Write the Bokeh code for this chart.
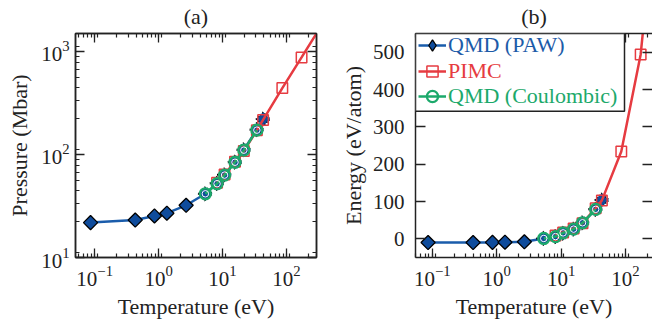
import numpy as np
from bokeh.plotting import figure
from bokeh.models import (LogAxis, LinearAxis, Legend, LegendItem, BoxAnnotation,
                          LogTicker, SingleIntervalTicker)
from bokeh.layouts import row
from bokeh.embed import file_html
from bokeh.resources import INLINE

# ---------------- data ----------------
T_qmd = [0.0862, 0.431, 0.862, 1.347, 2.694, 5.387, 8.209, 10.77, 15.67, 21.54, 34.47, 43.09]
P_qmd = [21.8, 23.1, 25.3, 26.9, 32.1, 41.5, 52.4, 63.4, 84.1, 111, 174, 220]
E_qmd = [-10, -10, -9.5, -9, -8, 1, 6, 15, 26, 43, 79, 104]

T_pimc = [8.209, 10.77, 15.67, 21.54, 34.47, 43.09, 86.17, 172.3, 344.7]
P_pimc = [53, 64, 85, 108, 172, 216, 440, 874, 1740]
E_pimc = [9, 17, 28, 42, 82, 103, 234, 494, 1010]

T_coul = [5.387, 8.209, 10.77, 15.67, 21.54, 34.47]
P_coul = [41.5, 52, 63, 84, 110, 172]
E_coul = [1, 6, 16, 26, 43, 79]

n_low = 5  # QMD (PAW) points drawn with solid outline

labels = ["QMD (PAW)", "PIMC", "QMD (Coulombic)"]
titles = ["(a)", "(b)"]

BLUE_FILL = "#0f4c9c"
BLUE_LINE = "#1a5cab"
BLUE_TEXT = "#1d5ba8"
RED = "#e63b41"
GREEN = "#1ca96b"
INK = "#222222"
FONT = "Liberation Serif"


def style_axis(ax, major=9, minor=4):
    ax.axis_line_width = 1.5
    ax.axis_line_color = INK
    ax.major_tick_in = major
    ax.major_tick_out = 0
    ax.minor_tick_in = minor
    ax.minor_tick_out = 0
    ax.major_tick_line_width = 1.3
    ax.minor_tick_line_width = 1.2
    ax.major_tick_line_color = INK
    ax.minor_tick_line_color = INK
    ax.major_label_text_font = FONT
    ax.major_label_text_font_size = "21px"
    ax.major_label_text_color = INK
    ax.axis_label_text_font = FONT
    ax.axis_label_text_font_size = "22px"
    ax.axis_label_text_font_style = "normal"
    ax.axis_label_text_color = INK


def hide_labels(ax):
    ax.major_label_text_font_size = "1px"
    ax.major_label_text_alpha = 0
    ax.major_label_standoff = 0


def draw_series(p, yq, yp, yc):
    r_bl = p.line(T_qmd, yq, line_color=BLUE_LINE, line_width=2.5)
    # plain diamonds (hidden under the rotated squares) give the legend its diamond glyph
    r_leg = p.scatter(T_qmd[:n_low], yq[:n_low], marker="diamond", size=9,
                      fill_color=BLUE_FILL, line_color="black", line_width=1.3)
    p.scatter(T_qmd[:n_low], yq[:n_low], marker="square", angle=np.pi / 4, size=10,
              fill_color=BLUE_FILL, line_color="black", line_width=1.3)
    p.scatter(T_qmd[n_low:], yq[n_low:], marker="square", angle=np.pi / 4, size=10,
              fill_color=BLUE_FILL, line_color="black", line_width=1.5, line_dash="1 2")
    r_rl = p.line(T_pimc, yp, line_color=RED, line_width=2.5)
    r_rs = p.scatter(T_pimc, yp, marker="square", size=10.5, fill_color=None,
                     line_color=RED, line_width=1.5)
    r_gl = p.line(T_coul, yc, line_color=GREEN, line_width=2.5)
    r_gc = p.scatter(T_coul, yc, marker="circle", size=11, fill_color=None,
                     line_color=GREEN, line_width=2.3)
    p.scatter(T_coul, yc, marker="circle", size=6.5, fill_color=None,
              line_color="white", line_width=1)
    return [r_bl, r_leg], [r_rl, r_rs], [r_gl, r_gc]


def base_fig(x_range, y_range, y_type, left_border, right_border):
    p = figure(width=326, height=328, x_axis_type="log", y_axis_type=y_type,
               x_range=x_range, y_range=y_range, output_backend="svg",
               toolbar_location=None, min_border_left=left_border,
               min_border_right=right_border, min_border_top=31, min_border_bottom=71)
    p.grid.visible = False
    p.background_fill_color = "white"
    p.border_fill_color = "white"
    return p


# ---------------- panel (a) ----------------
pa = base_fig((10 ** -1.30, 10 ** 2.47), (10, 1490), "log", 75, 10)
pa.outline_line_color = INK
pa.outline_line_width = 1.5
xt_a = LogTicker(num_minor_ticks=9)
yt_a = LogTicker(num_minor_ticks=9)
pa.xaxis.ticker = xt_a
pa.yaxis.ticker = yt_a
pa.xaxis.axis_label = "Temperature (eV)"
pa.yaxis.axis_label = "Pressure (Mbar)"
for ax in pa.xaxis + pa.yaxis:
    style_axis(ax)
pa.xaxis.major_label_standoff = 8
pa.yaxis.major_label_standoff = 6
pa.yaxis.axis_label_standoff = 6
top_a = LogAxis(ticker=xt_a, axis_label=titles[0])
right_a = LogAxis(ticker=yt_a)
for ax in (top_a, right_a):
    style_axis(ax)
    hide_labels(ax)
top_a.axis_label_standoff = 5
pa.add_layout(top_a, "above")
pa.add_layout(right_a, "right")
draw_series(pa, P_qmd, P_pimc, P_coul)

# ---------------- panel (b) ----------------
pb = base_fig((10 ** -1.26, 10 ** 2.42), (-50, 550), "linear", 89, 0)
pb.outline_line_color = None
xt_b = LogTicker(num_minor_ticks=9)
yt_b = SingleIntervalTicker(interval=100, num_minor_ticks=0)
pb.xaxis.ticker = xt_b
pb.yaxis.ticker = yt_b
pb.xaxis.axis_label = "Temperature (eV)"
pb.yaxis.axis_label = "Energy (eV/atom)"
for ax in pb.xaxis:
    style_axis(ax)
for ax in pb.yaxis:
    style_axis(ax, major=10)
pb.xaxis.major_label_standoff = 8
pb.yaxis.major_label_standoff = 11
pb.yaxis.axis_label_standoff = 4
top_b = LogAxis(ticker=xt_b, axis_label=titles[1])
right_b = LinearAxis(ticker=yt_b)
style_axis(top_b)
style_axis(right_b, major=10)
hide_labels(top_b)
hide_labels(right_b)
right_b.axis_line_color = None
top_b.axis_label_standoff = 5
pb.add_layout(top_b, "above")
pb.add_layout(right_b, "right")
rb, rr, rg = draw_series(pb, E_qmd, E_pimc, E_coul)

box = BoxAnnotation(right=209, right_units="screen", bottom=146.3, bottom_units="screen",
                    fill_color="white", fill_alpha=1.0, line_color=INK, line_width=1.5,
                    line_alpha=1.0)
pb.add_layout(box)

for lab, rends, col, vy in zip(labels, [rb, rr, rg], [BLUE_TEXT, RED, GREEN],
                               [198.3, 171.7, 146.7]):
    lg = Legend(items=[LegendItem(label=lab, renderers=rends)], location=(3, vy),
                padding=0, margin=0, spacing=0, glyph_width=28, glyph_height=28,
                label_height=28, label_standoff=2, label_text_font=FONT,
                label_text_font_size="22px", label_text_color=col,
                border_line_alpha=0, background_fill_alpha=0)
    pb.add_layout(lg)

layout = row(pa, pb)
open("out.html", "w").write(file_html(layout, INLINE))
